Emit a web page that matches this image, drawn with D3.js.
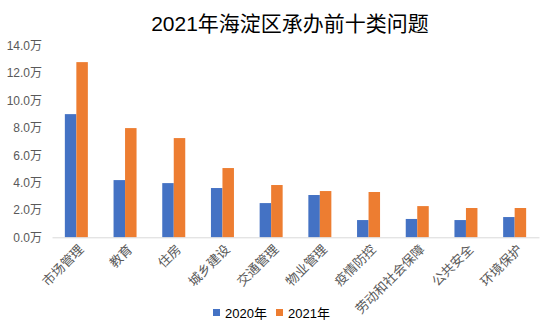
<!DOCTYPE html>
<html><head><meta charset="utf-8">
<script src="https://cdn.jsdelivr.net/npm/d3@7"></script>
<style>body{margin:0;background:#fff}svg{display:block}</style>
</head><body>
<script>
const categories = ["市场管理","教育","住房","城乡建设","交通管理","物业管理","疫情防控","劳动和社会保障","公共安全","环境保护"];
const series2020 = [9.0,4.18,3.96,3.6,2.5,3.09,1.26,1.34,1.26,1.48];
const series2021 = [12.8,7.98,7.25,5.06,3.82,3.38,3.31,2.28,2.14,2.14];
const seriesNames = ["2020年","2021年"];
const yTicks = [0,2,4,6,8,10,12,14];

const W=554,H=325;
const font = '"Liberation Sans","Noto Sans CJK SC",sans-serif';
const colors = ["#4472C4","#ED7D31"];
const svg = d3.select("body").append("svg").attr("width",W).attr("height",H);

const x = d3.scaleBand().domain(categories).range([52,539]);
const y = d3.scaleLinear().domain([0,14]).range([237.3,45.7]);
const sub = d3.scaleBand().domain(seriesNames).range([0,23]);

svg.append("text").attr("x",290).attr("y",31).attr("text-anchor","middle")
  .attr("font-family",font).attr("font-size",21).attr("fill","#000")
  .text("2021年海淀区承办前十类问题");

const yAxis = svg.append("g").attr("transform","translate(52,0)")
  .call(d3.axisLeft(y).tickValues(yTicks).tickFormat(d=>d3.format(".1f")(d)+"万").tickSize(0).tickPadding(10));
yAxis.select(".domain").remove();
yAxis.selectAll("text").attr("font-family",font).attr("font-size",12).attr("fill","#595959");

const data = [series2020,series2021];
const groups = svg.append("g");
data.forEach((s,si)=>{
  groups.selectAll(null).data(s).enter().append("rect")
    .attr("x",(d,i)=>x(categories[i])+x.bandwidth()/2-11.5+sub(seriesNames[si]))
    .attr("width",sub.bandwidth())
    .attr("y",d=>y(d)).attr("height",d=>y(0)-y(d))
    .attr("fill",colors[si]);
});

const xAxis = svg.append("g").attr("transform","translate(0,237.3)")
  .call(d3.axisBottom(x).tickSize(0).tickFormat(""));
xAxis.select(".domain").attr("stroke","#d9d9d9").attr("stroke-width",1);

svg.append("g").selectAll("text").data(categories).enter().append("text")
  .attr("transform",d=>`translate(${x(d)+x.bandwidth()/2+5},${247}) rotate(-45)`)
  .attr("text-anchor","end").attr("dy","0.35em")
  .attr("font-family",font).attr("font-size",13).attr("fill","#595959")
  .text(d=>d);

const leg = svg.append("g");
const legX=[213,276];
seriesNames.forEach((n,i)=>{
  leg.append("rect").attr("x",legX[i]).attr("y",309).attr("width",7).attr("height",7).attr("fill",colors[i]);
  leg.append("text").attr("x",legX[i]+12).attr("y",317.5).attr("font-family",font).attr("font-size",13).attr("fill","#000").text(n);
});
</script>
</body></html>
